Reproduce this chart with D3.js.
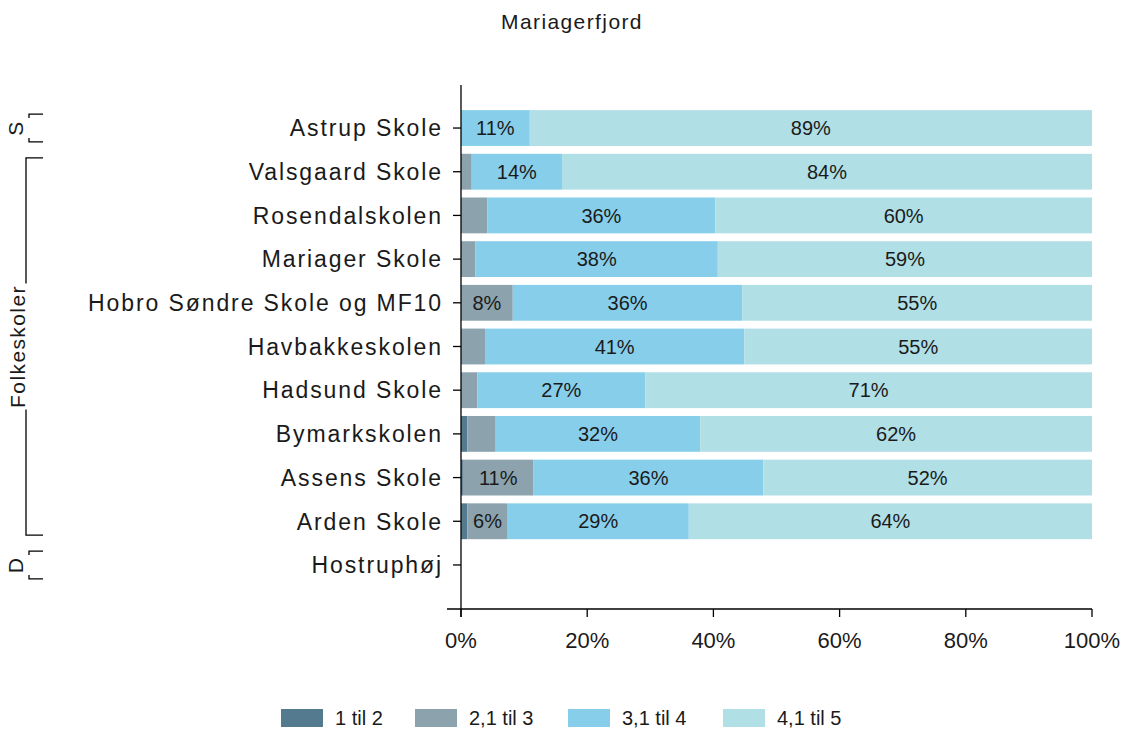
<!DOCTYPE html>
<html>
<head>
<meta charset="utf-8">
<script src="https://cdn.jsdelivr.net/npm/d3@7"></script>
<style>
  body { margin: 0; background: #fff; }
  text { font-family: "Liberation Sans", Arial, sans-serif; fill: #1a1a1a; }
</style>
</head>
<body>
<script>
const width = 1128;
const height = 731;

const categories = ["Astrup Skole", "Valsgaard Skole", "Rosendalskolen", "Mariager Skole",
    "Hobro Søndre Skole og MF10", "Havbakkeskolen", "Hadsund Skole", "Bymarkskolen",
    "Assens Skole", "Arden Skole", "Hostruphøj"];
const seriesNames = ["1 til 2", "2,1 til 3", "3,1 til 4", "4,1 til 5"];
const colors = ["#537a8e", "#8ca3ae", "#87ceeb", "#b0dfe6"];

// percent per school, null = no data
const v1 = [0, 0, 0, 0, 0, 0, 0, 1.0, 0.3, 1.0, null];
const v2 = [0, 1.7, 4.2, 2.3, 8.2, 3.8, 2.6, 4.5, 11.2, 6.4, null];
const v3 = [10.9, 14.3, 36.1, 38.4, 36.4, 41.1, 26.6, 32.4, 36.4, 28.7, null];
const v4 = [89.1, 84.0, 59.7, 59.3, 55.4, 55.1, 70.8, 62.1, 52.1, 63.9, null];
const seriesValues = [v1, v2, v3, v4];

const groups = [
    { name: "S", members: ["Astrup Skole"] },
    { name: "Folkeskoler", members: categories.slice(1, 10) },
    { name: "D", members: ["Hostruphøj"] }
];
const xTicks = [0, 20, 40, 60, 80, 100];

const svg = d3.select("body").append("svg")
    .attr("width", width)
    .attr("height", height);

const x = d3.scaleLinear().domain([0, 100]).range([461, 1092]);
const y = d3.scaleBand().domain(categories).range([85, 608])
    .paddingInner(0.18).paddingOuter(0.575);

svg.append("text")
    .attr("x", 572)
    .attr("y", 29)
    .attr("text-anchor", "middle")
    .attr("font-size", "21px")
    .attr("letter-spacing", "1.4px")
    .text("Mariagerfjord");

// bars
const rows = categories.map((c, i) => {
    let x0 = 0;
    return seriesValues.map((s, k) => {
        const v = s[i];
        const seg = { cat: c, k, v, x0, x1: x0 + (v || 0) };
        x0 += v || 0;
        return seg;
    });
}).flat().filter(d => d.v);

svg.append("g").selectAll("rect")
    .data(rows)
    .join("rect")
    .attr("x", d => x(d.x0))
    .attr("y", d => y(d.cat))
    .attr("width", d => x(d.x1) - x(d.x0))
    .attr("height", y.bandwidth())
    .attr("fill", d => colors[d.k]);

svg.append("g").selectAll("text")
    .data(rows.filter(d => d.v >= 5))
    .join("text")
    .attr("x", d => (x(d.x0) + x(d.x1)) / 2)
    .attr("y", d => y(d.cat) + y.bandwidth() / 2)
    .attr("dy", "0.36em")
    .attr("text-anchor", "middle")
    .attr("font-size", "20px")
    .text(d => Math.round(d.v) + "%");

// axes
const axes = svg.append("g").attr("stroke", "#000").attr("stroke-width", 1.3);
axes.append("line").attr("x1", 461).attr("x2", 461).attr("y1", 85).attr("y2", 617);
axes.append("line").attr("x1", 447).attr("x2", 1092).attr("y1", 609).attr("y2", 609);

axes.selectAll(".yt")
    .data(categories)
    .join("line")
    .attr("x1", 453).attr("x2", 461)
    .attr("y1", d => y(d) + y.bandwidth() / 2)
    .attr("y2", d => y(d) + y.bandwidth() / 2);

axes.selectAll(".xt")
    .data(xTicks)
    .join("line")
    .attr("x1", d => x(d)).attr("x2", d => x(d))
    .attr("y1", 609).attr("y2", 617);

svg.append("g").selectAll("text")
    .data(categories)
    .join("text")
    .attr("x", 443)
    .attr("y", d => y(d) + y.bandwidth() / 2)
    .attr("dy", "0.36em")
    .attr("text-anchor", "end")
    .attr("font-size", "23px")
    .attr("letter-spacing", "1.9px")
    .text(d => d);

svg.append("g").selectAll("text")
    .data(xTicks)
    .join("text")
    .attr("x", d => x(d))
    .attr("y", 640)
    .attr("dy", "0.36em")
    .attr("text-anchor", "middle")
    .attr("font-size", "22px")
    .text(d => d + "%");

// group brackets on the left
const bracket = svg.append("g");
groups.forEach(gr => {
    const top = y(gr.members[0]) + 4;
    const bottom = y(gr.members[gr.members.length - 1]) + y.bandwidth() - 4;
    const mid = (top + bottom) / 2;
    const small = gr.members.length === 1;
    const lx = small ? 29 : 26;
    const half = small ? 10 : 63;
    const b = bracket.append("g").attr("stroke", "#000").attr("stroke-width", 1.3).attr("fill", "none");
    b.append("path").attr("d", `M43,${top}H${lx}V${mid - half}`);
    b.append("path").attr("d", `M43,${bottom}H${lx}V${mid + half}`);
    bracket.append("text")
        .attr("transform", `translate(${small ? 23 : 25},${mid}) rotate(-90)`)
        .attr("text-anchor", "middle")
        .attr("font-size", "21px")
        .attr("letter-spacing", "1.4px")
        .text(gr.name);
});

// legend
const legendX = [281, 415, 568, 723];
const legend = svg.append("g").selectAll("g")
    .data(seriesNames)
    .join("g")
    .attr("transform", (d, i) => `translate(${legendX[i]},709)`);
legend.append("rect")
    .attr("width", 42).attr("height", 18)
    .attr("fill", (d, i) => colors[i]);
legend.append("text")
    .attr("x", 54).attr("y", 9).attr("dy", "0.36em")
    .attr("font-size", "20px")
    .text(d => d);
</script>
</body>
</html>
